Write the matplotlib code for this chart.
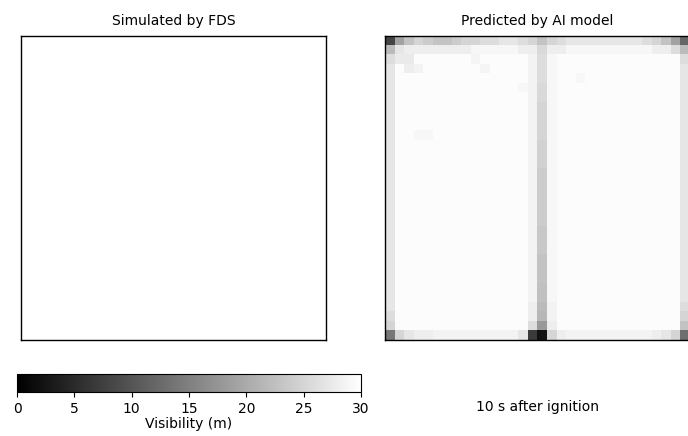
import numpy as np
import matplotlib
matplotlib.use("Agg")
import matplotlib.pyplot as plt

# Visibility field (m) on a 32 x 32 grid, rows from top to bottom
n = 32
background = 29.6

# FDS result: clear air everywhere
fds_field = np.full((n, n), 30.0)

# AI prediction: mostly clear, with darker cells along the walls and a central column
top_row = [8, 19, 23, 25, 24, 23, 23, 24, 25, 25, 26, 26, 27, 27, 26, 25,
           23, 25, 26, 27, 27, 27, 27, 27, 27, 27, 27, 26, 25, 23, 19, 12]
second_row = [22, 27, 28, 28, 28, 28, 28, 28, 28, 29, 29, 29, 29, 29, 28, 28,
              26, 28, 28, 29, 29, 29, 29, 29, 29, 29, 29, 29, 28, 28, 26, 22]
left_col = [8, 22, 26, 27, 27, 27, 27, 27, 27, 27, 27, 27, 27, 27, 27, 27,
            27, 27, 27, 27, 27, 27, 27, 27, 27, 27, 27, 27, 27, 26, 25, 14]
right_col = [12, 22, 26, 27, 27, 27, 27, 27, 27, 27, 27, 27, 27, 27, 27, 27,
             27, 27, 27, 27, 27, 27, 27, 27, 27, 27, 27, 27, 26, 25, 23, 13]
center_col = [23, 25.5, 26, 26, 26, 25.5, 25.5, 25, 25, 25, 25, 24.5, 24.5, 24.5, 24, 24,
              24, 24, 24, 24, 23.5, 23.5, 23.5, 23, 23, 23, 22.5, 22.5, 22, 21.5, 18, 2]
near_center_col = [28, 28.5, 28.5, 28.5, 28.5, 28.5, 28.5, 28.5, 28.5, 28.5, 28.5, 28.5, 28.5, 28.5, 28.5, 28.5,
                   28.5, 28.5, 28.5, 28.5, 28.5, 28.5, 28.5, 28.5, 28.5, 28.5, 28.5, 28.5, 28, 28, 26, 7]
right_of_center_col = [27, 28.5, 29, 29, 29, 29, 29, 29, 29, 29, 29, 29, 29, 29, 29, 29,
                       29, 29, 29, 29, 29, 29, 29, 29, 29, 29, 29, 29, 28.5, 28.5, 28, 25]
bottom_row = [14, 25, 27, 28, 28, 28.5, 28.5, 28.5, 28.5, 28.5, 28.5, 28.5, 28.5, 28.5, 27, 7,
              2, 25, 28, 28.5, 28.5, 28.5, 28.5, 28.5, 28.5, 28.5, 28.5, 28.5, 28, 27, 25, 13]
# faint patches near the upper part of the domain: (row, col, value)
patches = [(2, 1, 27.5), (2, 2, 27.5), (3, 2, 28), (3, 3, 28.5), (2, 9, 28.8), (3, 10, 28.8),
           (10, 3, 29), (10, 4, 29), (5, 14, 29), (4, 20, 29)]

ai_field = np.full((n, n), background)
ai_field[:, 15] = near_center_col
ai_field[:, 16] = center_col
ai_field[:, 17] = right_of_center_col
ai_field[:, 0] = left_col
ai_field[:, n - 1] = right_col
ai_field[1, :] = np.minimum(ai_field[1, :], second_row)
ai_field[0, :] = top_row
ai_field[n - 1, :] = bottom_row
for r, c, v in patches:
    ai_field[r, c] = v

vmin, vmax = 0, 30
cbar_ticks = [0, 5, 10, 15, 20, 25, 30]

W, H = 688, 436
fig = plt.figure(figsize=(W / 100, H / 100), dpi=100)


def box(x0, y_top, w, h):
    return [x0 / W, (H - y_top - h) / H, w / W, h / H]


ax1 = fig.add_axes(box(21, 36, 305, 304))
ax2 = fig.add_axes(box(385, 36, 305, 304))

im = ax1.imshow(fds_field, cmap="gray", vmin=vmin, vmax=vmax,
                interpolation="nearest", aspect="auto")
ax2.imshow(ai_field, cmap="gray", vmin=vmin, vmax=vmax,
           interpolation="nearest", aspect="auto")

for ax, title in [(ax1, "Simulated by FDS"), (ax2, "Predicted by AI model")]:
    ax.set_xticks([])
    ax.set_yticks([])
    ax.set_title(title, fontsize=10, pad=8)
    for s in ax.spines.values():
        s.set_linewidth(1.0)

cax = fig.add_axes(box(17, 374, 344, 18))
cb = fig.colorbar(im, cax=cax, orientation="horizontal", ticks=cbar_ticks)
cb.ax.tick_params(labelsize=10)
cb.set_label("Visibility (m)", fontsize=10, labelpad=1)

fig.text(538 / W, (H - 407) / H, "10 s after ignition", ha="center", va="center",
         fontsize=10)

fig.savefig("out.png", dpi=100)
